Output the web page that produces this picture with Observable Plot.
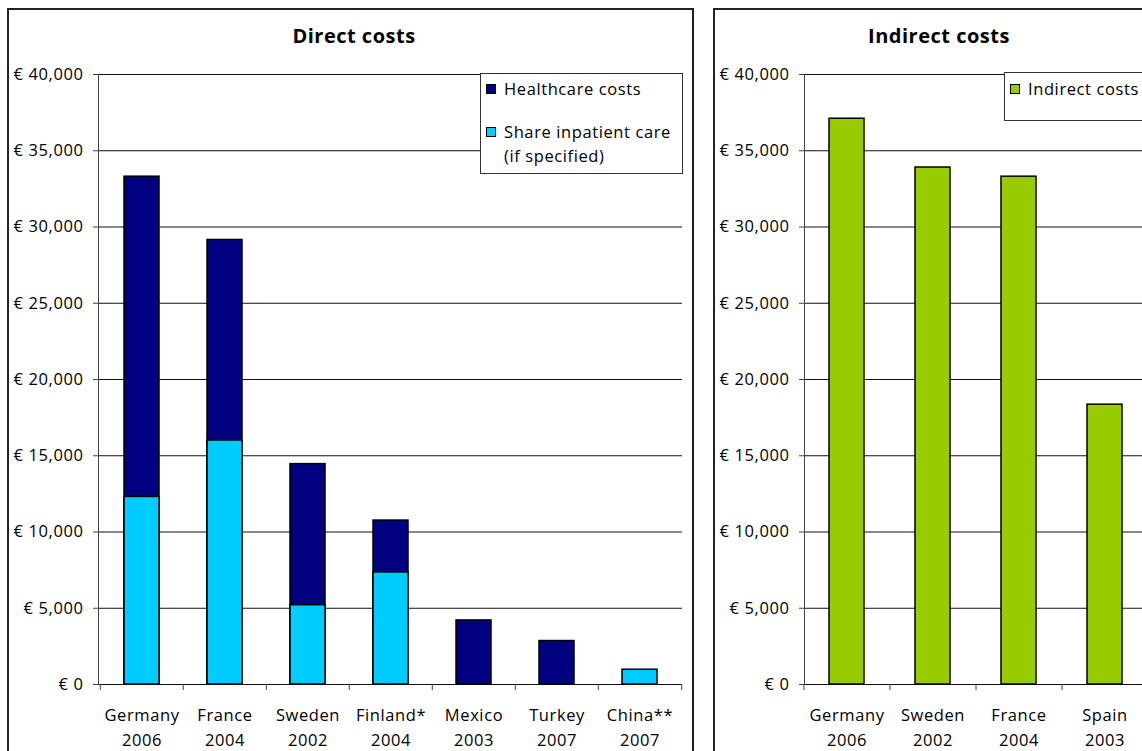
<!DOCTYPE html>
<html>
<head>
<meta charset="utf-8">
<script src="https://cdn.jsdelivr.net/npm/d3@7"></script>
<script src="https://cdn.jsdelivr.net/npm/@observablehq/plot@0.6"></script>
<style>
  html, body { margin: 0; padding: 0; width: 1142px; height: 751px; overflow: hidden; background: #fff; }
  body { position: relative; font-family: "Open Sans", "Noto Sans", sans-serif; color: #000; }
  .panel { position: absolute; border: 2px solid #222; box-sizing: border-box; background: #fff; }
  .title { position: absolute; text-align: center; font-weight: bold; font-size: 20px; letter-spacing: 0.5px; line-height: 24px; }
  .chart { position: absolute; }
  .chart svg { max-width: none !important; }
  .legend { position: absolute; background: #fff; border: 1px solid #333; box-sizing: border-box; font-size: 16.5px; letter-spacing: 0.6px; }
  .item { position: absolute; line-height: 24px; white-space: nowrap; }
  .swatch { position: absolute; width: 10px; height: 10px; border: 1px solid #000; box-sizing: border-box; }
</style>
</head>
<body>
<div class="panel" style="left:7px; top:8px; width:687px; height:760px;"></div>
<div class="panel" style="left:713px; top:8px; width:460px; height:760px;"></div>
<div class="title" style="left:8px; top:24px; width:692px;">Direct costs</div>
<div class="title" style="left:714px; top:24px; width:450px;">Indirect costs</div>
<div id="direct" class="chart" style="left:8px; top:9px; width:685px;"></div>
<div id="indirect" class="chart" style="left:714px; top:9px; width:446px;"></div>
<div id="legendDirect" class="legend" style="left:480px; top:73px; width:203px; height:101px;"></div>
<div id="legendIndirect" class="legend" style="left:1004px; top:72px; width:160px; height:49px;"></div>
<script>
// Direct costs per patient (EUR), country and study year
const directCountries = ["Germany", "France", "Sweden", "Finland*", "Mexico", "Turkey", "China**"];
const directYears = ["2006", "2004", "2002", "2004", "2003", "2007", "2007"];
const healthcareCosts = [33300, 29150, 14450, 10750, 4200, 2850, null];
const inpatientShare = [12300, 16000, 5200, 7350, null, null, 970];

// Indirect costs per patient (EUR)
const indirectCountries = ["Germany", "Sweden", "France", "Spain"];
const indirectYears = ["2006", "2002", "2004", "2003"];
const indirectCosts = [37100, 33900, 33300, 18350];

const yTicks = [0, 5000, 10000, 15000, 20000, 25000, 30000, 35000, 40000];

const colors = { healthcare: "#000080", inpatient: "#00CCFF", indirect: "#99CC00" };

const euro = d => "€ " + d3.format(",")(d);

const directRows = directCountries.map((c, i) => ({
  label: c + "\n" + directYears[i],
  healthcare: healthcareCosts[i],
  inpatient: inpatientShare[i]
}));
const indirectRows = indirectCountries.map((c, i) => ({
  label: c + "\n" + indirectYears[i],
  value: indirectCosts[i]
}));

function costChart({ rows, series, width, marginRight, paddingInner }) {
  const marginLeft = 90;
  const labels = rows.map(d => d.label);
  const step = (width - marginLeft - marginRight) / labels.length;
  const barMarks = series.map(s =>
    Plot.barY(rows, { x: "label", y: s.key, fill: s.color, stroke: "#000", strokeWidth: 1.5 })
  );
  return Plot.plot({
    width,
    height: 742,
    marginLeft,
    marginRight,
    marginTop: 65,
    marginBottom: 67,
    style: { fontFamily: "'Open Sans', 'Noto Sans', sans-serif", fontSize: "16.5px", letterSpacing: "0.6px", color: "#000", background: "transparent", overflow: "visible", maxWidth: "none" },
    x: { domain: labels, paddingInner, paddingOuter: paddingInner / 2, label: null },
    y: { domain: [0, 40000], label: null },
    marks: [
      Plot.ruleY(yTicks, { stroke: "#111", strokeWidth: 1 }),
      ...barMarks,
      Plot.frame({ anchor: "left", stroke: "#444" }),
      Plot.axisY({ ticks: yTicks, tickFormat: euro, tickSize: 5, tickPadding: 10, stroke: "#444", fontSize: 16.5 }),
      Plot.axisX({ tickSize: 0, tickPadding: 19, lineHeight: 1.5, fontSize: 16.5, textAnchor: "middle" }),
      // category separators below the baseline
      Plot.ruleX(labels, { x: d => d, y1: 0, y2: 0, dx: -step / 2, insetBottom: -6, stroke: "#444" }),
      Plot.ruleX(labels.slice(-1), { x: d => d, y1: 0, y2: 0, dx: step / 2, insetBottom: -6, stroke: "#444" })
    ]
  });
}

document.getElementById("direct").append(costChart({
  rows: directRows,
  series: [
    { key: "healthcare", color: colors.healthcare },
    { key: "inpatient", color: colors.inpatient }
  ],
  width: 685,
  marginRight: 11,
  paddingInner: 0.58
}));

document.getElementById("indirect").append(costChart({
  rows: indirectRows,
  series: [{ key: "value", color: colors.indirect }],
  width: 446,
  marginRight: 12,
  paddingInner: 0.59
}));

function legend(el, items) {
  items.forEach(it => {
    const sw = document.createElement("div");
    sw.className = "swatch";
    sw.style.left = "5px";
    sw.style.top = it.top + "px";
    sw.style.background = it.color;
    el.append(sw);
    const tx = document.createElement("div");
    tx.className = "item";
    tx.style.left = "23px";
    tx.style.top = (it.top - 7) + "px";
    tx.innerHTML = it.text;
    el.append(tx);
  });
}
legend(document.getElementById("legendDirect"), [
  { color: colors.healthcare, text: "Healthcare costs", top: 10 },
  { color: colors.inpatient, text: "Share inpatient care<br>(if specified)", top: 53 }
]);
legend(document.getElementById("legendIndirect"), [
  { color: colors.indirect, text: "Indirect costs", top: 11 }
]);
</script>
</body>
</html>
